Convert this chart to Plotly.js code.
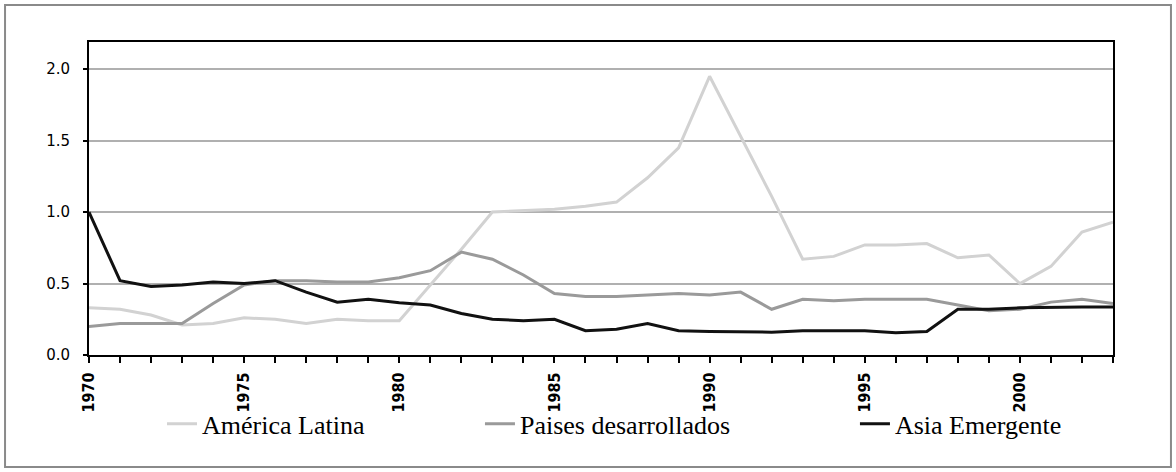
<!DOCTYPE html>
<html>
<head>
<meta charset="utf-8">
<script src="https://cdn.plot.ly/plotly-3.0.1.min.js"></script>
<style>
  body { margin: 0; background: #fff; }
  #plotDiv { width: 1176px; height: 472px; }
</style>
</head>
<body>
<div id="plotDiv"></div>
<script>
const years = [1970, 1971, 1972, 1973, 1974, 1975, 1976, 1977, 1978, 1979,
  1980, 1981, 1982, 1983, 1984, 1985, 1986, 1987, 1988, 1989,
  1990, 1991, 1992, 1993, 1994, 1995, 1996, 1997, 1998, 1999,
  2000, 2001, 2002, 2003];

const americaLatina = [0.33, 0.32, 0.28, 0.21, 0.22, 0.26, 0.25, 0.22, 0.25, 0.24,
  0.24, 0.49, 0.74, 1.00, 1.01, 1.02, 1.04, 1.07, 1.24, 1.45,
  1.95, 1.53, 1.11, 0.67, 0.69, 0.77, 0.77, 0.78, 0.68, 0.70,
  0.50, 0.62, 0.86, 0.93];

const paisesDesarrollados = [0.20, 0.22, 0.22, 0.22, 0.36, 0.49, 0.52, 0.52, 0.51, 0.51,
  0.54, 0.59, 0.72, 0.67, 0.56, 0.43, 0.41, 0.41, 0.42, 0.43,
  0.42, 0.44, 0.32, 0.39, 0.38, 0.39, 0.39, 0.39, 0.35, 0.31,
  0.32, 0.37, 0.39, 0.36];

const asiaEmergente = [1.00, 0.52, 0.48, 0.49, 0.51, 0.50, 0.52, 0.44, 0.37, 0.39,
  0.365, 0.35, 0.29, 0.25, 0.24, 0.25, 0.17, 0.18, 0.22, 0.17,
  0.165, 0.16, 0.16, 0.17, 0.17, 0.17, 0.155, 0.165, 0.32, 0.32,
  0.33, 0.335, 0.335, 0.335];

const xLabelYears = [1970, 1975, 1980, 1985, 1990, 1995, 2000];
const yTicks = [0, 0.5, 1.0, 1.5, 2.0];
const yTickText = ["0.0", "0.5", "1.0", "1.5", "2.0"];

const legendFont = { family: "Liberation Serif, Times New Roman, serif", size: 26, color: "#000" };

const traces = [
  {
    x: years, y: americaLatina, type: "scatter", mode: "lines",
    name: "América Latina", legend: "legend",
    line: { color: "#d2d2d2", width: 3 },
  },
  {
    x: years, y: paisesDesarrollados, type: "scatter", mode: "lines",
    name: "Paises desarrollados", legend: "legend2",
    line: { color: "#9a9a9a", width: 3 },
  },
  {
    x: years, y: asiaEmergente, type: "scatter", mode: "lines",
    name: "Asia Emergente", legend: "legend3",
    line: { color: "#111111", width: 3 },
  },
];

// legends placed one by one under the axis, like the original
const legendBase = {
  orientation: "h", xanchor: "left", yanchor: "middle", y: -0.22,
  font: legendFont, bgcolor: "rgba(0,0,0,0)", borderwidth: 0,
};

const layout = {
  width: 1176,
  height: 472,
  margin: { l: 89, r: 63, t: 42, b: 117 },
  paper_bgcolor: "#fff",
  plot_bgcolor: "#fff",
  showlegend: true,
  legend: Object.assign({}, legendBase, { x: 0.0713 }),
  legend2: Object.assign({}, legendBase, { x: 0.3818 }),
  legend3: Object.assign({}, legendBase, { x: 0.748 }),
  xaxis: {
    range: [1970, 2003],
    tickmode: "array",
    tickvals: xLabelYears,
    ticktext: xLabelYears.map(String),
    tickangle: -90,
    ticks: "outside",
    ticklen: 6,
    tickwidth: 2,
    tickcolor: "#000",
    ticklabelstandoff: 3,
    tickfont: { family: "Liberation Sans Narrow, Arial Narrow, DejaVu Sans Condensed, sans-serif", size: 16, color: "#000", weight: "bold" },
    minor: { dtick: 1, tick0: 1970, ticks: "outside", ticklen: 6, tickwidth: 2, tickcolor: "#000", showgrid: false },
    showgrid: false,
    zeroline: false,
    showline: true,
    linecolor: "#000",
    linewidth: 2,
    mirror: true,
  },
  yaxis: {
    range: [0, 2.19],
    tickmode: "array",
    tickvals: yTicks,
    ticktext: yTickText,
    ticks: "outside",
    ticklen: 4,
    tickwidth: 2,
    tickcolor: "#000",
    ticklabelstandoff: 10,
    tickfont: { family: "DejaVu Sans, Verdana, sans-serif", size: 15, color: "#000" },
    showgrid: true,
    gridcolor: "#b0b0b0",
    gridwidth: 2,
    zeroline: false,
    showline: true,
    linecolor: "#000",
    linewidth: 2,
    mirror: true,
  },
  shapes: [
    {
      type: "rect", xref: "paper", yref: "paper",
      x0: -0.082, x1: 1.0566, y0: -0.3578, y1: 1.1182,
      line: { color: "#8a8a8a", width: 2 },
      fillcolor: "rgba(0,0,0,0)",
      layer: "below",
    },
  ],
};

Plotly.newPlot("plotDiv", traces, layout, { displayModeBar: false, staticPlot: true });
</script>
</body>
</html>
